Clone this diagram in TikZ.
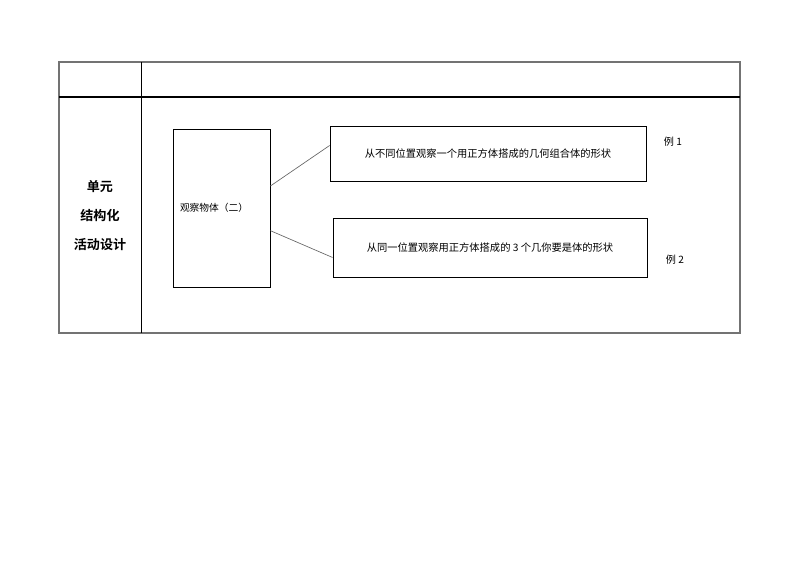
\documentclass[tikz,border=0pt]{standalone}
\usepackage{fontspec}
\newfontfamily\cjk{Noto Sans CJK SC}[BoldFont={Noto Sans CJK SC Bold}]

\begin{document}
\begin{tikzpicture}[x=0.75pt, y=-0.75pt,
    box/.style={draw, line width=0.6pt, inner sep=0pt, font=\cjk\fontsize{7.7}{9}\selectfont},
    link/.style={draw=black!60, line width=0.5pt},
    tag/.style={font=\cjk\fontsize{7.6}{9}\selectfont}]

    % Page
    \useasboundingbox (0,0) rectangle (794,561);

    % Parameters
    \def\L{59}      % table left
    \def\R{740}     % table right
    \def\T{62}      % table top
    \def\B{333}     % table bottom
    \def\M{97}      % head row bottom
    \def\C{141}     % column divider

    % Table
    \draw[black!55, line width=1.4pt] (\L,\T) rectangle (\R,\B);
    \draw[line width=0.9pt] (\L,\M) -- (\R,\M);
    \draw[line width=0.6pt] (\C,\T) -- (\C,\B);

    % Left cell
    \node[font=\cjk\bfseries\fontsize{9.8}{12}\selectfont] (unit) at (100,187) {单元};
    \node[font=\cjk\bfseries\fontsize{9.8}{12}\selectfont] (struct) at (100,216) {结构化};
    \node[font=\cjk\bfseries\fontsize{9.8}{12}\selectfont] (plan) at (100,245) {活动设计};

    % Boxes
    \node[box, minimum width=97*0.75pt, minimum height=158*0.75pt,
          text width=83*0.75pt, align=left, font=\cjk\fontsize{7.3}{9}\selectfont]
        (obs) at (221.5,208) {观察物体（二）};
    \node[box, minimum width=316*0.75pt, minimum height=55*0.75pt] (ex1) at (488,153.5)
        {从不同位置观察一个用正方体搭成的几何组合体的形状};
    \node[box, minimum width=314*0.75pt, minimum height=59*0.75pt] (ex2) at (490,247.5)
        {从同一位置观察用正方体搭成的 3 个几你要是体的形状};

    % Links
    \draw[link] ([yshift=16.5pt]obs.east) -- ([yshift=6pt]ex1.west);
    \draw[link] ([yshift=-17pt]obs.east) -- ([yshift=-7.5pt]ex2.west);

    % Labels
    \node[tag] (tag1) at (673,142) {例 1};
    \node[tag] (tag2) at (675,260) {例 2};

\end{tikzpicture}
\end{document}
